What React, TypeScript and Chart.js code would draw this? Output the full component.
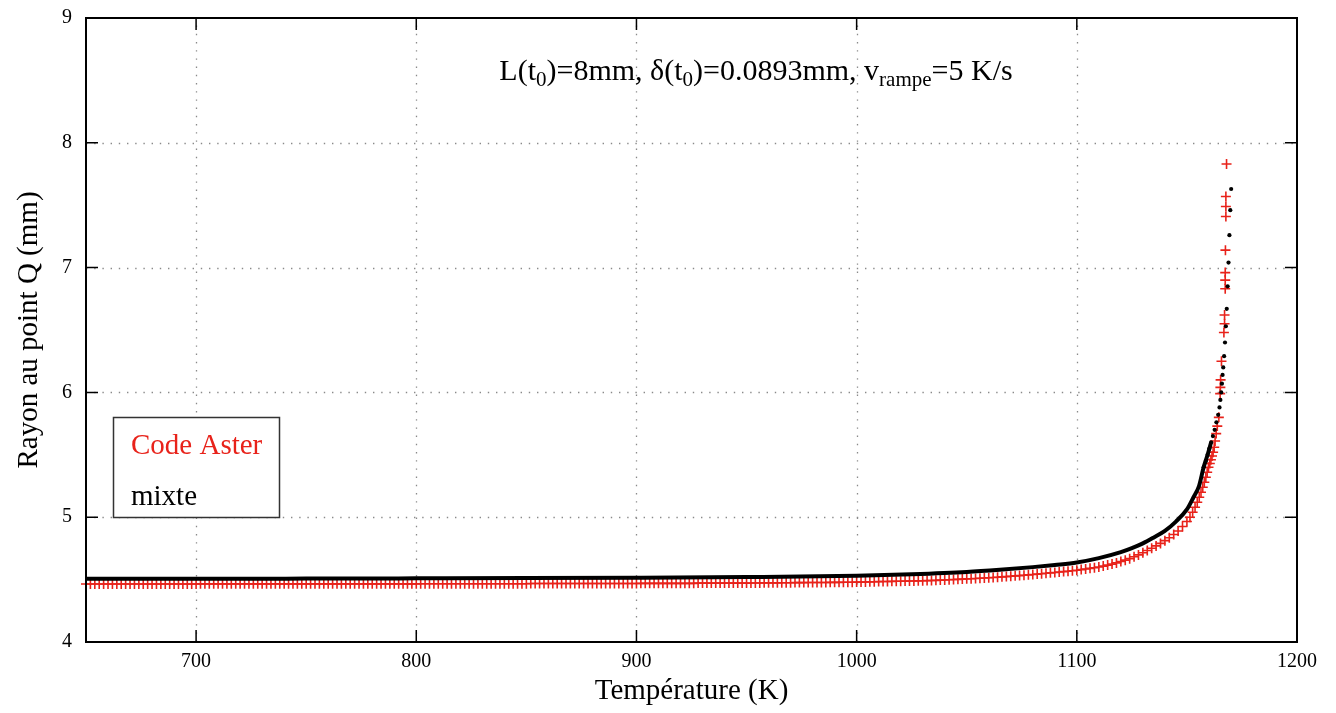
import React, { useEffect, useRef } from 'react';
import { Chart, registerables } from 'chart.js';

Chart.register(...registerables);

const FONT = "'Liberation Serif', 'Times New Roman', serif";
const RED = '#e8221a';

const xTicks = [700, 800, 900, 1000, 1100, 1200];
const yTicks = [4, 5, 6, 7, 8, 9];

// Code Aster (red crosses) — dense part
const asterTemps = [
  650, 652, 654, 656, 658, 660, 662, 664, 666, 668, 670, 672, 674, 676, 678, 680, 682, 684, 686, 688, 690, 692, 694, 696, 698,
  700, 702, 704, 706, 708, 710, 712, 714, 716, 718, 720, 722, 724, 726, 728, 730, 732, 734, 736, 738, 740, 742, 744, 746, 748,
  750, 752, 754, 756, 758, 760, 762, 764, 766, 768, 770, 772, 774, 776, 778, 780, 782, 784, 786, 788, 790, 792, 794, 796, 798,
  800, 802, 804, 806, 808, 810, 812, 814, 816, 818, 820, 822, 824, 826, 828, 830, 832, 834, 836, 838, 840, 842, 844, 846, 848,
  850, 852, 854, 856, 858, 860, 862, 864, 866, 868, 870, 872, 874, 876, 878, 880, 882, 884, 886, 888, 890, 892, 894, 896, 898,
  900, 902, 904, 906, 908, 910, 912, 914, 916, 918, 920, 922, 924, 926, 928, 930, 932, 934, 936, 938, 940, 942, 944, 946, 948,
  950, 952, 954, 956, 958, 960, 962, 964, 966, 968, 970, 972, 974, 976, 978, 980, 982, 984, 986, 988, 990, 992, 994, 996, 998,
  1000, 1002, 1004, 1006, 1008, 1010, 1012, 1014, 1016, 1018, 1020, 1022, 1024, 1026, 1028, 1030, 1032, 1034, 1036, 1038, 1040, 1042, 1044, 1046, 1048,
  1050, 1052, 1054, 1056, 1058, 1060, 1062, 1064, 1066, 1068, 1070, 1072, 1074, 1076, 1078, 1080, 1082, 1084, 1086, 1088, 1090, 1092, 1094, 1096, 1098,
  1100, 1102, 1104, 1106, 1108, 1110, 1112, 1114, 1116, 1118, 1120, 1122, 1124, 1126, 1128, 1130, 1132, 1134, 1136, 1138, 1140, 1142, 1144, 1146, 1148,
];
const asterRadius = [
  4.465, 4.465, 4.465, 4.465, 4.465, 4.465, 4.465, 4.465, 4.465, 4.465, 4.465, 4.465, 4.465, 4.465, 4.465, 4.465, 4.465, 4.465, 4.465, 4.465, 4.465, 4.465, 4.465, 4.465, 4.465,
  4.465, 4.466, 4.466, 4.466, 4.466, 4.466, 4.466, 4.466, 4.466, 4.466, 4.466, 4.466, 4.466, 4.466, 4.466, 4.466, 4.466, 4.466, 4.466, 4.466, 4.466, 4.466, 4.466, 4.466, 4.466,
  4.466, 4.466, 4.466, 4.466, 4.466, 4.466, 4.466, 4.466, 4.466, 4.466, 4.466, 4.466, 4.466, 4.466, 4.466, 4.466, 4.466, 4.466, 4.466, 4.466, 4.466, 4.466, 4.466, 4.466, 4.466,
  4.466, 4.467, 4.467, 4.467, 4.467, 4.467, 4.467, 4.467, 4.467, 4.467, 4.467, 4.467, 4.467, 4.467, 4.467, 4.467, 4.467, 4.467, 4.467, 4.467, 4.467, 4.467, 4.467, 4.467, 4.467,
  4.467, 4.469, 4.469, 4.469, 4.469, 4.469, 4.469, 4.469, 4.469, 4.469, 4.469, 4.469, 4.469, 4.469, 4.469, 4.469, 4.469, 4.469, 4.469, 4.469, 4.469, 4.469, 4.469, 4.469, 4.469,
  4.469, 4.470, 4.470, 4.470, 4.470, 4.470, 4.470, 4.470, 4.470, 4.470, 4.470, 4.470, 4.470, 4.470, 4.472, 4.472, 4.472, 4.472, 4.472, 4.472, 4.472, 4.472, 4.472, 4.472, 4.472,
  4.472, 4.473, 4.473, 4.473, 4.474, 4.474, 4.474, 4.474, 4.475, 4.475, 4.475, 4.476, 4.476, 4.476, 4.477, 4.477, 4.477, 4.477, 4.477, 4.478, 4.478, 4.478, 4.479, 4.479, 4.479,
  4.480, 4.480, 4.481, 4.482, 4.483, 4.484, 4.485, 4.485, 4.486, 4.487, 4.487, 4.488, 4.489, 4.489, 4.490, 4.491, 4.492, 4.493, 4.494, 4.496, 4.497, 4.499, 4.501, 4.502, 4.504,
  4.506, 4.507, 4.509, 4.511, 4.513, 4.515, 4.517, 4.519, 4.522, 4.524, 4.527, 4.530, 4.532, 4.535, 4.538, 4.541, 4.544, 4.547, 4.551, 4.554, 4.557, 4.561, 4.564, 4.567, 4.571,
  4.575, 4.580, 4.585, 4.590, 4.595, 4.601, 4.608, 4.616, 4.624, 4.634, 4.645, 4.656, 4.668, 4.683, 4.698, 4.715, 4.733, 4.751, 4.770, 4.790, 4.812, 4.835, 4.861, 4.890, 4.925,
];
// Code Aster — steep part
const asterSteepTemps = [
  1150, 1151.4, 1152.6, 1153.7, 1154.7, 1155.6, 1156.4, 1157.2, 1157.9, 1158.6, 1159.2, 1159.8,
  1160.4, 1160.9, 1161.4, 1161.9, 1162.4, 1162.8, 1163.3, 1163.8, 1164.5, 1165.1, 1165.2, 1165.3,
  1165.7, 1166.8, 1167.1, 1167.1, 1167.4, 1167.4, 1167.4, 1167.5, 1167.7, 1167.7, 1167.7, 1168.0,
];
const asterSteepRadius = [
  4.965, 5.00, 5.04, 5.08, 5.12, 5.16, 5.20, 5.24, 5.28, 5.32, 5.36, 5.40,
  5.43, 5.46, 5.49, 5.52, 5.56, 5.61, 5.67, 5.73, 5.80, 5.99, 6.04, 6.10,
  6.25, 6.48, 6.55, 6.62, 6.83, 6.90, 6.96, 7.14, 7.41, 7.49, 7.57, 7.83,
];

// mixte (black dots) — continuous part
const mixteTemps = [
  650, 700, 750, 800, 850, 900, 950, 1000, 1025, 1050, 1065, 1080, 1090, 1100, 1110,
  1120, 1125, 1130, 1135, 1140, 1145, 1150, 1153, 1155.5, 1157.6, 1159.4, 1161.0,
];
const mixteRadius = [
  4.507, 4.507, 4.508, 4.510, 4.512, 4.515, 4.520, 4.530, 4.542, 4.560, 4.578, 4.600, 4.617, 4.637, 4.672,
  4.720, 4.752, 4.790, 4.838, 4.890, 4.965, 5.062, 5.160, 5.25, 5.40, 5.50, 5.60,
];
// mixte — steep part (separate dots)
const mixteSteepTemps = [
  1157.6, 1158.6, 1159.4, 1160.2, 1161.0, 1161.8, 1162.6, 1163.4, 1164.2, 1164.8, 1165.2, 1165.6,
  1165.9, 1166.2, 1166.5, 1166.9, 1167.3, 1167.7, 1168.1, 1168.5, 1168.9, 1169.3, 1169.7, 1170.1,
];
const mixteSteepRadius = [
  5.40, 5.45, 5.50, 5.55, 5.60, 5.65, 5.70, 5.76, 5.82, 5.88, 5.94, 6.00,
  6.07, 6.14, 6.20, 6.29, 6.40, 6.53, 6.67, 6.85, 7.04, 7.26, 7.46, 7.63,
];

const legendEntries = [
  { text: 'Code Aster', color: RED },
  { text: 'mixte', color: '#000' },
];

const pts = (xs: number[], ys: number[]) => xs.map((x, i) => ({ x, y: ys[i] }));

const decorPlugin = {
  id: 'decor',
  beforeDatasetsDraw(chart: any) {
    const { ctx, chartArea: a, scales } = chart;
    ctx.save();
    ctx.strokeStyle = '#8a8a8a';
    ctx.lineWidth = 1.3;
    ctx.setLineDash([1.4, 6.8]);
    xTicks.forEach((v) => {
      const x = Math.round(scales.x.getPixelForValue(v)) + 0.5;
      if (x <= a.left + 2 || x >= a.right - 2) return;
      ctx.beginPath();
      ctx.moveTo(x, a.bottom);
      ctx.lineTo(x, a.top);
      ctx.stroke();
    });
    yTicks.forEach((v) => {
      const y = Math.round(scales.y.getPixelForValue(v)) + 0.5;
      if (y <= a.top + 2 || y >= a.bottom - 2) return;
      ctx.beginPath();
      ctx.moveTo(a.left, y);
      ctx.lineTo(a.right, y);
      ctx.stroke();
    });
    ctx.restore();
  },
  afterDatasetsDraw(chart: any) {
    const { ctx, chartArea: a, scales } = chart;
    ctx.save();
    ctx.strokeStyle = '#000';
    ctx.lineWidth = 1.5;
    const tl = 12;
    xTicks.forEach((v) => {
      const x = scales.x.getPixelForValue(v);
      ctx.beginPath();
      ctx.moveTo(x, a.bottom);
      ctx.lineTo(x, a.bottom - tl);
      ctx.moveTo(x, a.top);
      ctx.lineTo(x, a.top + tl);
      ctx.stroke();
    });
    yTicks.forEach((v) => {
      const y = scales.y.getPixelForValue(v);
      ctx.beginPath();
      ctx.moveTo(a.left, y);
      ctx.lineTo(a.left + tl, y);
      ctx.moveTo(a.right, y);
      ctx.lineTo(a.right - tl, y);
      ctx.stroke();
    });
    ctx.lineWidth = 2;
    ctx.strokeRect(a.left, a.top, a.right - a.left, a.bottom - a.top);

    // legend box
    const bx = 113.5, by = 417.5, bw = 166, bh = 100;
    ctx.fillStyle = '#fff';
    ctx.fillRect(bx, by, bw, bh);
    ctx.strokeStyle = '#333';
    ctx.lineWidth = 1.5;
    ctx.strokeRect(bx, by, bw, bh);
    ctx.font = `29px ${FONT}`;
    ctx.textBaseline = 'alphabetic';
    ctx.textAlign = 'left';
    legendEntries.forEach((e, i) => {
      ctx.fillStyle = e.color;
      ctx.fillText(e.text, 131, 454 + i * 51);
    });

    // annotation with subscripts
    const parts: [string, boolean][] = [
      ['L(t', false], ['0', true], [')=8mm, δ(t', false], ['0', true],
      [')=0.0893mm, v', false], ['rampe', true], ['=5 K/s', false],
    ];
    const big = `30px ${FONT}`;
    const small = `21px ${FONT}`;
    let total = 0;
    parts.forEach(([t, s]) => { ctx.font = s ? small : big; total += ctx.measureText(t).width; });
    let x = 756 - total / 2;
    const base = 80;
    ctx.fillStyle = '#000';
    parts.forEach(([t, s]) => {
      ctx.font = s ? small : big;
      ctx.fillText(t, x, s ? base + 6 : base);
      x += ctx.measureText(t).width;
    });
    ctx.restore();
  },
};

export default function App() {
  const ref = useRef<HTMLCanvasElement>(null);
  useEffect(() => {
    const canvas = ref.current!;
    const chart = new Chart(canvas, {
      type: 'scatter',
      data: {
        datasets: [
          {
            label: 'mixte',
            data: pts(mixteTemps, mixteRadius),
            showLine: true,
            borderColor: '#000',
            backgroundColor: '#000',
            borderWidth: 4,
            pointRadius: 0,
            cubicInterpolationMode: 'monotone',
          } as any,
          {
            label: 'mixte ',
            data: pts(mixteSteepTemps, mixteSteepRadius),
            showLine: false,
            pointStyle: 'circle',
            pointRadius: 2.1,
            backgroundColor: '#000',
            borderColor: '#000',
            borderWidth: 0,
          } as any,
          {
            label: 'Code Aster',
            data: [...pts(asterTemps, asterRadius), ...pts(asterSteepTemps, asterSteepRadius)],
            showLine: false,
            pointStyle: 'cross',
            pointRadius: 5,
            borderColor: RED,
            backgroundColor: RED,
            pointBorderColor: RED,
            borderWidth: 1.6,
            clip: false,
          } as any,
        ],
      },
      options: {
        responsive: false,
        animation: false,
        events: [],
        layout: { padding: { top: 10, right: 39, left: 0, bottom: 0 } },
        plugins: { legend: { display: false }, tooltip: { enabled: false } },
        scales: {
          x: {
            type: 'linear',
            min: 650,
            max: 1200,
            afterBuildTicks: (s: any) => { s.ticks = xTicks.map((v) => ({ value: v })); },
            afterFit: (s: any) => { s.height = 71; },
            grid: { display: false },
            border: { display: false },
            ticks: { font: { family: FONT, size: 20 }, color: '#000', padding: 0, maxRotation: 0, autoSkip: false, callback: (v: any) => String(v) },
            title: { display: true, text: 'Température (K)', font: { family: FONT, size: 29 }, color: '#000', padding: { top: 0, bottom: 4 } },
          },
          y: {
            type: 'linear',
            min: 4,
            max: 9,
            afterBuildTicks: (s: any) => { s.ticks = yTicks.map((v) => ({ value: v })); },
            afterFit: (s: any) => { s.width = 86; },
            grid: { display: false },
            border: { display: false },
            ticks: { font: { family: FONT, size: 20 }, color: '#000', padding: 6, callback: (v: any) => String(v) },
            title: { display: true, text: 'Rayon au point Q (mm)', font: { family: FONT, size: 29 }, color: '#000', padding: { top: 12, bottom: 0 } },
          },
        },
      },
      plugins: [decorPlugin],
    } as any);
    return () => chart.destroy();
  }, []);
  return (
    <div style={{ position: 'fixed', left: 0, top: 0, width: 1336, height: 713, background: '#fff' }}>
      <canvas ref={ref} width={1336} height={713} style={{ display: 'block' }} />
    </div>
  );
}
